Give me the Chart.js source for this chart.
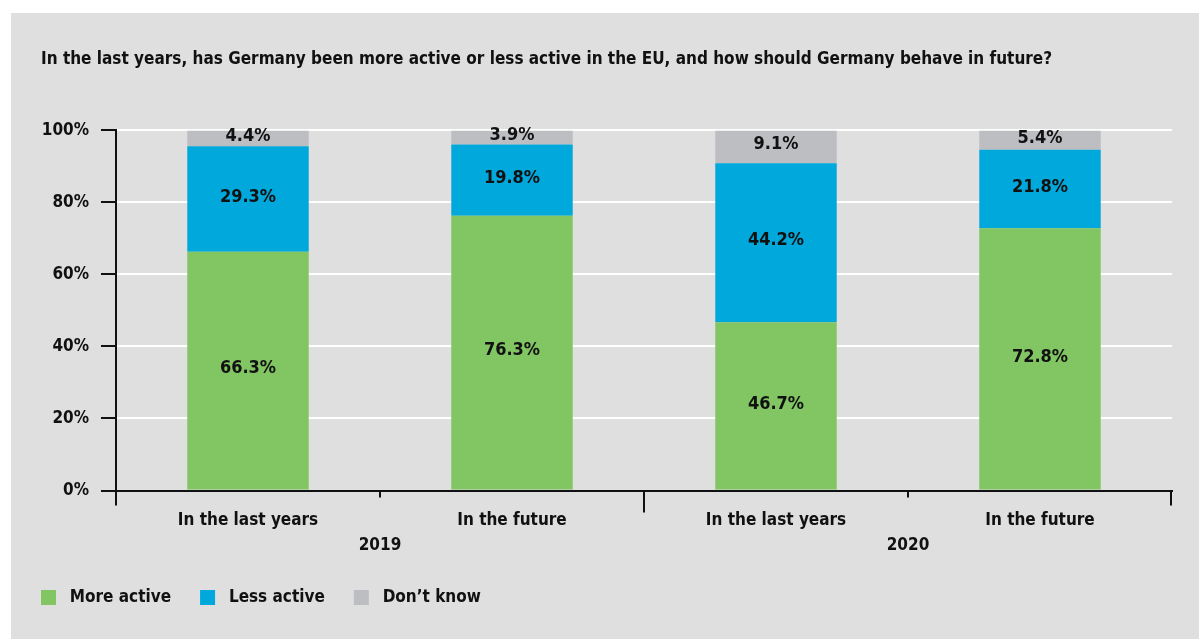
<!DOCTYPE html>
<html>
<head>
<meta charset="utf-8">
<script src="https://cdn.jsdelivr.net/npm/chart.js@4"></script>
<style>
  body { margin: 0; background: #fff; }
  #panel { position: absolute; left: 11px; top: 13px; width: 1188px; height: 626px; background: #dfdfdf; }
</style>
</head>
<body>
<div id="panel"><canvas id="chart"></canvas></div>
<script>
// data
var categories = ['In the last years', 'In the future', 'In the last years', 'In the future'];
var years = ['2019', '2020'];
var moreActive = [66.3, 76.3, 46.7, 72.8];
var lessActive = [29.3, 19.8, 44.2, 21.8];
var dontKnow = [4.4, 3.9, 9.1, 5.4];
var seriesNames = ['More active', 'Less active', 'Don\u2019t know'];

var fontFamily = "'DejaVu Sans Condensed', 'DejaVu Sans', sans-serif";
var ink = '#111';

Chart.defaults.font.family = fontFamily;
Chart.defaults.font.weight = 'bold';
Chart.defaults.color = ink;

// percent values written in the middle of every segment
var valueLabels = {
  id: 'valueLabels',
  afterDatasetsDraw: function(chart) {
    var ctx = chart.ctx;
    ctx.save();
    ctx.font = 'bold 18px ' + fontFamily;
    ctx.fillStyle = ink;
    ctx.textAlign = 'center';
    ctx.textBaseline = 'middle';
    chart.data.datasets.forEach(function(ds, i) {
      chart.getDatasetMeta(i).data.forEach(function(bar, j) {
        ctx.fillText(ds.data[j].toFixed(1) + '%', bar.x, (bar.y + bar.base) / 2 - 2);
      });
    });
    ctx.restore();
  }
};

// tick marks under the x axis: long ones between the years, short ones inside a year
var groupTicks = {
  id: 'groupTicks',
  afterDraw: function(chart) {
    var x = chart.scales.x, ctx = chart.ctx;
    var n = categories.length;
    ctx.save();
    ctx.strokeStyle = ink;
    ctx.lineWidth = 2;
    for (var i = 0; i <= n; i++) {
      var px;
      if (i === 0) px = x.left;
      else if (i === n) px = x.right - 1;
      else px = (x.getPixelForTick(i - 1) + x.getPixelForTick(i)) / 2;
      var len = (i === 0 || i === n) ? 15 : (i % 2 === 0 ? 22 : 7);
      ctx.beginPath();
      ctx.moveTo(px, x.top);
      ctx.lineTo(px, x.top + len);
      ctx.stroke();
    }
    ctx.restore();
  }
};

// legend starts flush with the title
var legendShift = {
  id: 'legendShift',
  afterLayout: function(chart) {
    chart.legend.left -= chart.legend.options.labels.padding;
  }
};

new Chart(document.getElementById('chart'), {
  type: 'bar',
  data: {
    labels: categories,
    datasets: [
      { label: seriesNames[0], data: moreActive, backgroundColor: '#82c563', xAxisID: 'x' },
      { label: seriesNames[1], data: lessActive, backgroundColor: '#00a8dc', xAxisID: 'x' },
      { label: seriesNames[2], data: dontKnow, backgroundColor: '#bdbec2', xAxisID: 'x' }
    ]
  },
  options: {
    responsive: true,
    maintainAspectRatio: false,
    animation: false,
    layout: { padding: { top: 22, left: 30, right: 27, bottom: 23 } },
    datasets: { bar: { categoryPercentage: 1, barPercentage: 0.46 } },
    scales: {
      x: {
        stacked: true,
        grid: { display: false, drawTicks: false },
        border: { color: ink, width: 2 },
        ticks: { padding: 20, font: { size: 17 }, maxRotation: 0 },
        afterFit: function(s) { s.height = 42; }
      },
      x2: {
        type: 'category',
        labels: years,
        position: 'bottom',
        offset: true,
        grid: { display: false, drawTicks: false },
        border: { display: false },
        ticks: { padding: 3, font: { size: 17 }, maxRotation: 0 },
        afterFit: function(s) { s.height = 27.5; }
      },
      y: {
        stacked: true,
        min: 0,
        max: 100,
        ticks: { stepSize: 20, padding: 12, font: { size: 17 }, callback: function(v) { return v + '%'; } },
        grid: {
          color: function(c) { return c.tick && c.tick.value === 0 ? 'rgba(0,0,0,0)' : '#fff'; },
          lineWidth: 2,
          tickColor: ink,
          tickLength: 15
        },
        border: { color: ink, width: 2 },
        afterFit: function(s) { s.width = 75; }
      }
    },
    plugins: {
      title: {
        display: true,
        align: 'start',
        text: 'In the last years, has Germany been more active or less active in the EU, and how should Germany behave in future?',
        font: { size: 17 },
        color: ink,
        padding: { top: 14, bottom: 61 }
      },
      legend: {
        position: 'bottom',
        align: 'start',
        labels: {
          boxWidth: 15,
          boxHeight: 15,
          padding: 29,
          font: { size: 17 },
          color: ink,
          generateLabels: function(chart) {
            return Chart.defaults.plugins.legend.labels.generateLabels(chart).map(function(item) {
              item.text = ' ' + item.text;
              item.lineWidth = 0;
              return item;
            });
          }
        }
      },
      tooltip: { enabled: false }
    }
  },
  plugins: [valueLabels, groupTicks, legendShift]
});
</script>
</body>
</html>
